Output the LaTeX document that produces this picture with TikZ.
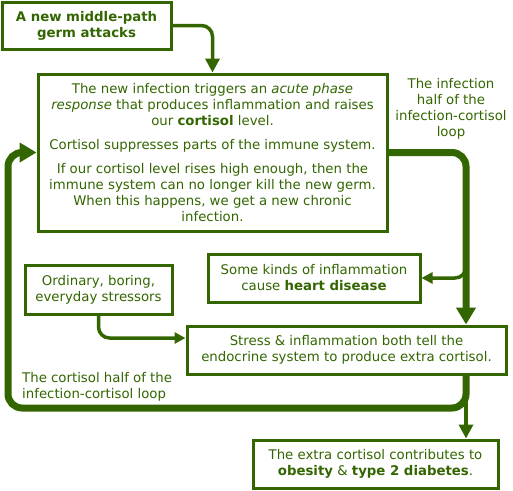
\documentclass[tikz,border=0pt]{standalone}
\usepackage{fontspec}
\setmainfont{DejaVu Sans}
\usetikzlibrary{arrows.meta}
\definecolor{dg}{HTML}{336600}
\tikzset{
  boxnode/.style={draw=dg, line width=3pt, fill=white, text=dg, align=center,
    inner sep=0pt, font=\fontsize{13.3}{16}\selectfont},
  lbl/.style={text=dg, inner sep=0pt, font=\fontsize{13.3}{16}\selectfont},
  thickline/.style={draw=dg, line width=7pt, rounded corners=14pt},
  thinline/.style={draw=dg, line width=3.5pt, rounded corners=11pt},
  bigtip/.style={-{Triangle[length=17pt,width=19pt]}},
  midtip/.style={-{Triangle[length=14pt,width=14pt]}},
  smalltip/.style={-{Triangle[length=11pt,width=11pt]}},
}
\begin{document}
\begin{tikzpicture}[x=1pt,y=-1pt]
\useasboundingbox (0,0) rectangle (513,490);
\node[boxnode, minimum width=169pt, minimum height=47pt] (b1) at (86.5,25.5)
  {\textbf{A new middle-path}\\\textbf{germ attacks}};
\node[boxnode, minimum width=349pt, minimum height=157pt] (b2) at (212.5,152.5)
  {The new infection triggers an \textit{acute phase}\\
   \textit{response} that produces inflammation and raises\\
   our \textbf{cortisol} level.\\[8pt]
   Cortisol suppresses parts of the immune system.\\[8pt]
   If our cortisol level rises high enough, then the\\
   immune system can no longer kill the new germ.\\
   When this happens, we get a new chronic\\
   infection.};
\node[boxnode, minimum width=212pt, minimum height=48pt] (heart) at (314,278)
  {Some kinds of inflammation\\cause \textbf{heart disease}};
\node[boxnode, minimum width=147pt, minimum height=49pt] (ord) at (98.5,289.5)
  {Ordinary, boring,\\everyday stressors};
\node[boxnode, minimum width=319pt, minimum height=48pt] (stress) at (346.5,350)
  {Stress \& inflammation both tell the\\endocrine system to produce extra cortisol.};
\node[boxnode, minimum width=245pt, minimum height=48pt] (extra) at (375.5,464)
  {The extra cortisol contributes to\\\textbf{obesity} \& \textbf{type 2 diabetes}.};
\node[lbl, align=center] (linf) at (451,109)
  {The infection\\half of the\\infection-cortisol\\loop};
\node[lbl, align=left, anchor=west] (lcor) at (22,387)
  {The cortisol half of the\\infection-cortisol loop};
\coordinate (rx) at (466,0);
\coordinate (hb) at (466,252);
\coordinate (bl) at (8,408);
% connectors
\draw[thinline, midtip] (b1.east) -| (b2.north);
\draw[thinline, smalltip] (hb) |- (heart.east);
\draw[thinline, smalltip] (ord.south) |- ([yshift=12pt]stress.west);
\draw[thinline, midtip, rounded corners=0pt] (rx |- stress.south) -- (rx |- extra.north);
\draw[thickline, bigtip] (b2.east) -| (rx |- stress.north);
\draw[thickline, bigtip] (rx |- stress.south) |- (bl) |- (b2.west);
\end{tikzpicture}
\end{document}
